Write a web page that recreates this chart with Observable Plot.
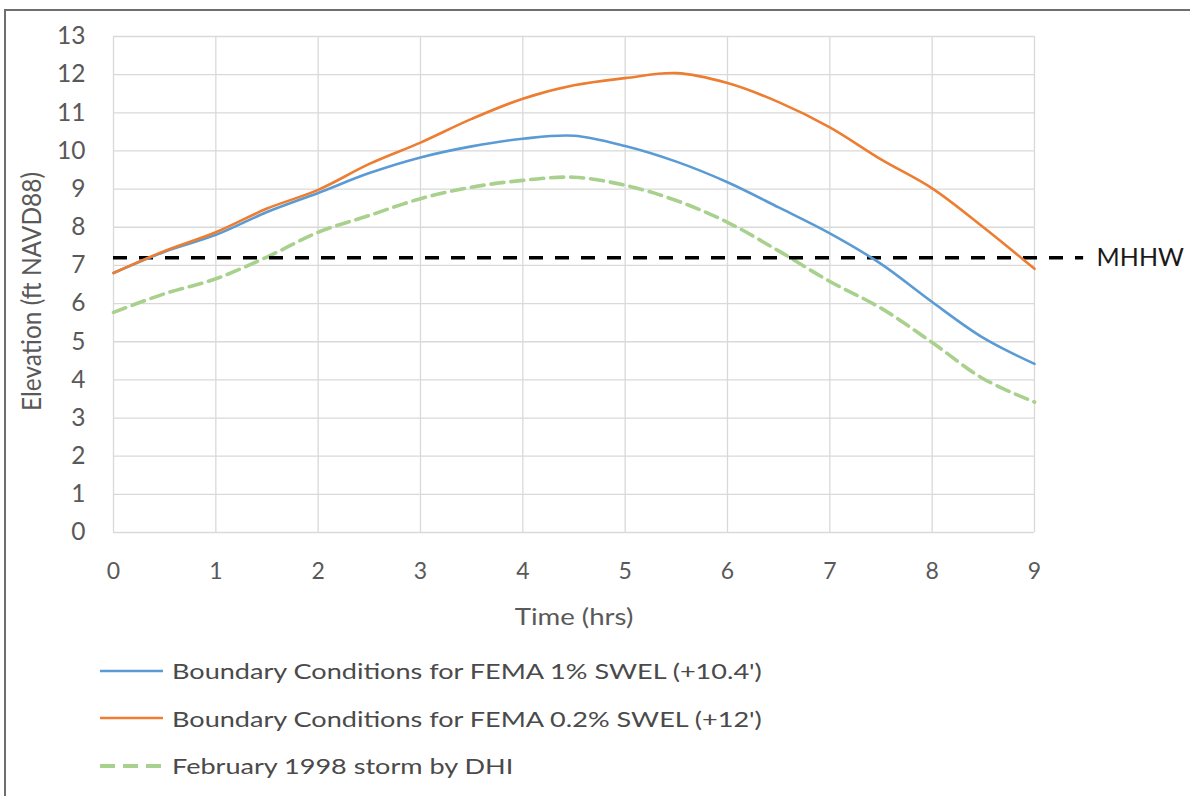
<!DOCTYPE html>
<html>
<head>
<meta charset="utf-8">
<script src="https://cdn.jsdelivr.net/npm/d3@7"></script>
<script src="https://cdn.jsdelivr.net/npm/@observablehq/plot@0.6"></script>
<style>
  html, body { margin: 0; padding: 0; background: #fff; overflow: hidden; }
  #frame { position: absolute; left: 4px; top: 9px; width: 2000px; height: 2000px;
           border-top: 2px solid #6e6e6e; border-left: 2px solid #6e6e6e; pointer-events: none; }
  #chart { position: absolute; left: 0; top: 0; }
  #legend { position: absolute; left: 100px; top: 647px; font-family: Lato, sans-serif;
            font-size: 22px; color: #4a4a4a; }
  .row { height: 47.5px; display: flex; align-items: center; }
  .row svg { margin-right: 9px; }
  .row span { display: inline-block; transform: scaleX(1.23); transform-origin: left center; white-space: nowrap; }
</style>
</head>
<body>
<div id="chart"></div>
<div id="legend"></div>
<div id="frame"></div>
<script>
// ---- data ----
const time = [0, 0.5, 1, 1.5, 2, 2.5, 3, 3.5, 4, 4.5, 5, 5.5, 6, 6.5, 7, 7.5, 8, 8.5, 9];
const fema1 = [6.80, 7.36, 7.80, 8.40, 8.90, 9.42, 9.83, 10.12, 10.32, 10.40, 10.13, 9.72, 9.18, 8.52, 7.84, 7.04, 6.04, 5.10, 4.42];
const fema02 = [6.80, 7.38, 7.87, 8.49, 8.98, 9.66, 10.22, 10.84, 11.37, 11.72, 11.91, 12.04, 11.78, 11.28, 10.62, 9.78, 9.02, 8.00, 6.91];
const storm1998 = [5.77, 6.26, 6.65, 7.22, 7.87, 8.31, 8.75, 9.05, 9.23, 9.31, 9.10, 8.70, 8.13, 7.38, 6.58, 5.88, 4.98, 4.03, 3.42];
const seriesNames = [
  "Boundary Conditions for FEMA 1% SWEL (+10.4')",
  "Boundary Conditions for FEMA 0.2% SWEL (+12')",
  "February 1998 storm by DHI"
];
const seriesColors = ["#5b9bd5", "#ed7d31", "#a9d18e"];
const xTicks = [0, 1, 2, 3, 4, 5, 6, 7, 8, 9];
const yTicks = [0, 1, 2, 3, 4, 5, 6, 7, 8, 9, 10, 11, 12, 13];
const mhhw = 7.2;
const mhhwLabel = "MHHW";
const mhhwEnd = 9.48;   // the reference line runs a little past the last hour

const toRows = (vals) => time.map((t, i) => ({t, v: vals[i]}));
const blueRows = toRows(fema1);
const orangeRows = toRows(fema02);
const greenRows = toRows(storm1998);

const chart = Plot.plot({
  width: 1190,
  height: 640,
  marginLeft: 113,
  marginRight: 156,
  marginTop: 36,
  marginBottom: 108,
  x: {domain: [0, 9]},
  y: {domain: [0, 13]},
  style: {fontFamily: "Lato, sans-serif", fontSize: "24px", color: "#595959", background: "transparent"},
  marks: [
    Plot.gridX(xTicks, {stroke: "#d9d9d9", strokeOpacity: 1, strokeWidth: 1.3}),
    Plot.gridY(yTicks, {stroke: "#d9d9d9", strokeOpacity: 1, strokeWidth: 1.3}),
    Plot.axisX(xTicks, {tickSize: 0, tickPadding: 30, tickFormat: d => String(d),
      label: "Time (hrs)", labelAnchor: "center", labelOffset: 92, labelArrow: "none", fontSize: 23}),
    Plot.axisY(yTicks, {tickSize: 0, tickPadding: 28, tickFormat: d => String(d),
      label: "Elevation (ft NAVD88)", labelAnchor: "center", labelOffset: 92, labelArrow: "none", fontSize: 24.5}),
    Plot.line(greenRows, {x: "t", y: "v", stroke: seriesColors[2], strokeWidth: 3.6,
      strokeDasharray: "13,7", curve: "catmull-rom"}),
    Plot.ruleY([mhhw], {x1: 0, x2: mhhwEnd, stroke: "#000", strokeWidth: 3.5, strokeDasharray: "14,12"}),
    Plot.line(blueRows, {x: "t", y: "v", stroke: seriesColors[0], strokeWidth: 2.6, curve: "catmull-rom"}),
    Plot.line(orangeRows, {x: "t", y: "v", stroke: seriesColors[1], strokeWidth: 2.6, curve: "catmull-rom"}),
    Plot.text([mhhwLabel], {x: mhhwEnd, y: mhhw, text: d => d, dx: 13, textAnchor: "start",
      fill: "#1a1a1a", fontSize: 25})
  ]
});
document.getElementById("chart").appendChild(chart);

// widen the x-axis title slightly, as in the reference
d3.select(chart).selectAll('g[aria-label="x-axis label"] text').each(function () {
  const t = this.getAttribute("transform") || "";
  this.setAttribute("transform", t + " scale(1.2,1)");
});
// the y-axis title: nudge down a little and widen across its strokes
d3.select(chart).selectAll('g[aria-label="y-axis label"] text').each(function () {
  const t = this.getAttribute("transform") || "";
  this.setAttribute("transform", t + " translate(-7,0) scale(1,1.1)");
});

// ---- legend ----
const legend = document.getElementById("legend");
seriesNames.forEach((name, i) => {
  const row = document.createElement("div");
  row.className = "row";
  const dash = i === 2 ? 'stroke-dasharray="15,8"' : "";
  const sw = i === 2 ? 4 : 2.6;
  row.innerHTML = `<svg width="63" height="10"><line x1="0" x2="63" y1="5" y2="5" stroke="${seriesColors[i]}" stroke-width="${sw}" ${dash}/></svg><span>${name}</span>`;
  legend.appendChild(row);
});
</script>
</body>
</html>
